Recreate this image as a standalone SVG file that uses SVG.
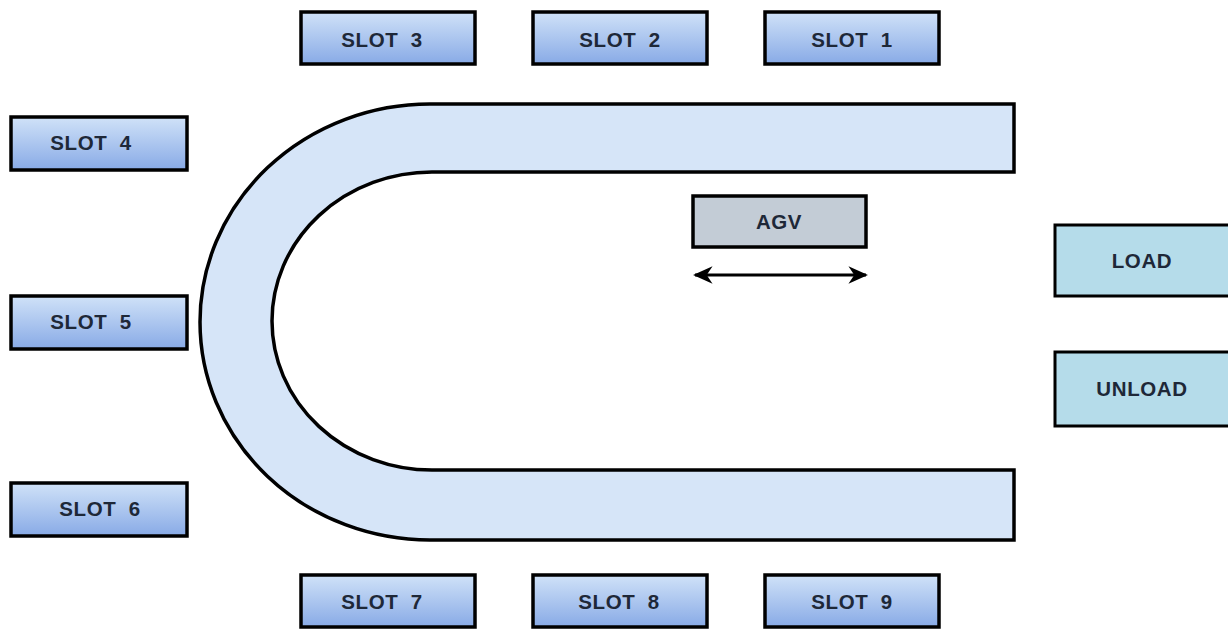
<svg xmlns="http://www.w3.org/2000/svg" width="1228" height="630" viewBox="0 0 1228 630">
<style>
.slot{fill:url(#sg);stroke:#000;stroke-width:3.5}
.lab{font-family:"Liberation Sans",Arial,sans-serif;font-weight:bold;font-size:20.5px;fill:#1e2838;text-anchor:middle;letter-spacing:0.6px;word-spacing:6px}
.st{fill:#b5dcea;stroke:#000;stroke-width:3}
</style>
<defs>
<linearGradient id="sg" x1="0" y1="0" x2="0" y2="1">
<stop offset="0" stop-color="#d0e2f8"/>
<stop offset="1" stop-color="#88aae6"/>
</linearGradient>
<marker id="ah" viewBox="0 0 10 10" refX="9" refY="5" markerWidth="6.5" markerHeight="6.5" orient="auto-start-reverse">
<path d="M0,0.5 L10,5 L0,9.5 L3,5 Z" fill="#000"/>
</marker>
</defs>
<rect width="1228" height="630" fill="#fff"/>
<g id="track">
<path d="M1014,104 L430,104 A230,218 0 0 0 430,540 L1014,540 L1014,470 L432,470 A160,149 0 0 1 432,172 L1014,172 Z" fill="#d6e5f8" stroke="#000" stroke-width="3.5" stroke-linejoin="miter"/>
</g>
<g id="slot3"><rect class="slot" x="301" y="12" width="174" height="52"/><text class="lab" x="382" y="47">SLOT 3</text></g>
<g id="slot2"><rect class="slot" x="533" y="12" width="174" height="52"/><text class="lab" x="620" y="47">SLOT 2</text></g>
<g id="slot1"><rect class="slot" x="765" y="12" width="174" height="52"/><text class="lab" x="852" y="47">SLOT 1</text></g>
<g id="slot4"><rect class="slot" x="11" y="117" width="176" height="53"/><text class="lab" x="91" y="150">SLOT 4</text></g>
<g id="slot5"><rect class="slot" x="11" y="296" width="176" height="53"/><text class="lab" x="91" y="329">SLOT 5</text></g>
<g id="slot6"><rect class="slot" x="11" y="483" width="176" height="53"/><text class="lab" x="100" y="516">SLOT 6</text></g>
<g id="slot7"><rect class="slot" x="301" y="575" width="174" height="52"/><text class="lab" x="382" y="609">SLOT 7</text></g>
<g id="slot8"><rect class="slot" x="533" y="575" width="174" height="52"/><text class="lab" x="619" y="609">SLOT 8</text></g>
<g id="slot9"><rect class="slot" x="765" y="575" width="174" height="52"/><text class="lab" x="852" y="609">SLOT 9</text></g>
<g id="agv"><rect x="693" y="196" width="173" height="51" fill="#c3ccd6" stroke="#000" stroke-width="3.5"/><text class="lab" x="779" y="229">AGV</text></g>
<g id="load"><rect class="st" x="1055" y="225" width="176" height="71"/><text class="lab" x="1142" y="268">LOAD</text></g>
<g id="unload"><rect class="st" x="1055" y="352" width="176" height="74"/><text class="lab" x="1142" y="396">UNLOAD</text></g>
<g id="connectors">
<line x1="695" y1="275" x2="866" y2="275" stroke="#000" stroke-width="3" marker-start="url(#ah)" marker-end="url(#ah)"/>
</g>
</svg>
